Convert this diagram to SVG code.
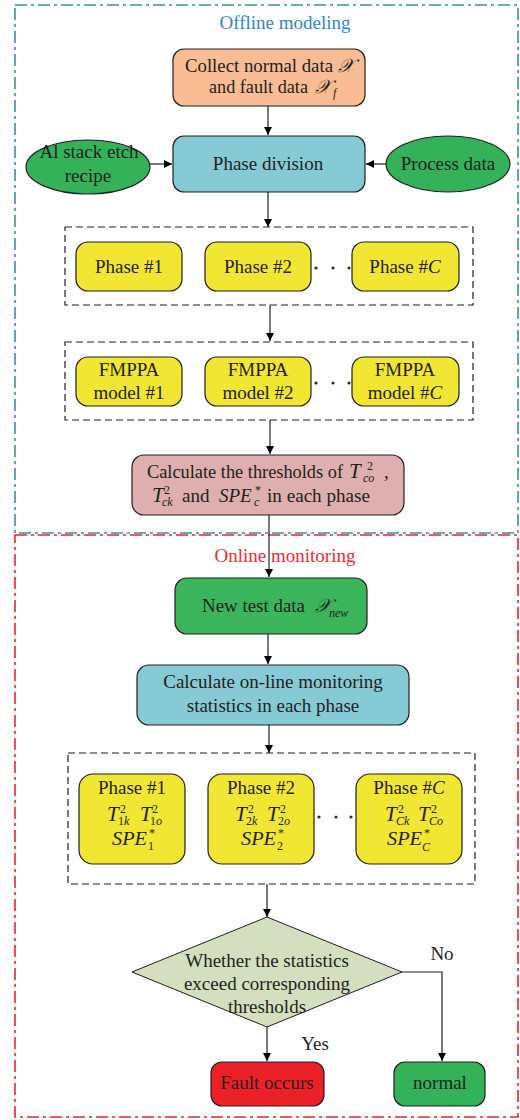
<svg xmlns="http://www.w3.org/2000/svg" width="520" height="1120" viewBox="0 0 520 1120">
<defs>
<style>
text{font-family:"Liberation Serif","Times New Roman",serif;fill:#231f20;font-size:19px}
.c{text-anchor:middle}
.i{font-style:italic}
.T{font-style:italic;font-size:21px}
.s{font-size:12px}
.node{stroke:#231f20;stroke-width:1.2}
.dash{fill:none;stroke:#231f20;stroke-width:1.2;stroke-dasharray:7 4}
.ln{fill:none;stroke:#231f20;stroke-width:1.2}
.dot{fill:#2b2b50}
</style>
<marker id="ah" viewBox="0 0 10 10" refX="10" refY="5" markerWidth="8" markerHeight="8" markerUnits="userSpaceOnUse" orient="auto"><path d="M0,0 L10,5 L0,10 z" fill="#000"/></marker>
</defs>
<rect width="520" height="1120" fill="#fff"/>

<g id="frames">
<rect x="15" y="5" width="503" height="528" fill="none" stroke="#3a8fa6" stroke-width="1.6" stroke-dasharray="12 4 3 4"/>
<rect x="15" y="535" width="503" height="582" fill="none" stroke="#e8262c" stroke-width="1.6" stroke-dasharray="12 4 3 4"/>
<text x="285" y="29" class="c" style="fill:#2f86c8">Offline modeling</text>
<text x="285" y="562" class="c" style="fill:#ee2a33">Online monitoring</text>
</g>

<g id="groups">
<rect x="65" y="227" width="408" height="78" class="dash"/>
<rect x="65" y="342" width="408" height="78" class="dash"/>
<rect x="68" y="753" width="407" height="131" class="dash"/>
</g>

<g id="connectors">
<line x1="268" y1="106" x2="268" y2="135" class="ln" marker-end="url(#ah)"/>
<line x1="150" y1="164" x2="172" y2="164" class="ln" marker-end="url(#ah)"/>
<line x1="387" y1="164" x2="366" y2="164" class="ln" marker-end="url(#ah)"/>
<line x1="268" y1="192" x2="268" y2="227" class="ln" marker-end="url(#ah)"/>
<line x1="270" y1="305" x2="270" y2="341" class="ln" marker-end="url(#ah)"/>
<line x1="270" y1="420" x2="270" y2="454" class="ln" marker-end="url(#ah)"/>
<line x1="269" y1="515" x2="269" y2="577" class="ln" marker-end="url(#ah)"/>
<line x1="268" y1="634" x2="268" y2="664" class="ln" marker-end="url(#ah)"/>
<line x1="269" y1="725" x2="269" y2="753" class="ln" marker-end="url(#ah)"/>
<line x1="267" y1="884" x2="267" y2="917" class="ln" marker-end="url(#ah)"/>
<line x1="267" y1="1027" x2="267" y2="1061" class="ln" marker-end="url(#ah)"/>
<polyline points="402,972 442,972 442,1061" class="ln" marker-end="url(#ah)"/>
<text x="442" y="960" class="c">No</text>
<text x="315" y="1050" class="c">Yes</text>
</g>

<g id="collect">
<rect x="173" y="49" width="192" height="57" rx="11" fill="#f9bc93" class="node"/>
<text x="185" y="72" textLength="148" lengthAdjust="spacingAndGlyphs">Collect normal data</text>
<text x="338" y="72" class="i">𝒳</text>
<text x="209" y="93" textLength="99" lengthAdjust="spacingAndGlyphs">and fault data</text>
<text x="315" y="93" class="i">𝒳</text>
<text x="333" y="97" class="i s">f</text>
</g>

<g id="phase-division">
<rect x="173" y="136" width="192" height="56" rx="11" fill="#86cad6" class="node"/>
<text x="268" y="170" class="c">Phase division</text>
</g>

<g id="recipe">
<ellipse cx="88" cy="167" rx="62" ry="27" fill="#33b25a" class="node"/>
<text x="89" y="158" class="c">Al stack etch</text>
<text x="88" y="182" class="c">recipe</text>
</g>

<g id="process-data">
<ellipse cx="448" cy="164" rx="62" ry="28" fill="#33b25a" class="node"/>
<text x="448" y="170" class="c">Process data</text>
</g>

<g id="phase1">
<rect x="76" y="242" width="106" height="49" rx="12" fill="#f1e631" class="node"/>
<text x="129" y="273" class="c">Phase #1</text>
</g>
<g id="phase2">
<rect x="205" y="242" width="106" height="49" rx="12" fill="#f1e631" class="node"/>
<text x="258" y="273" class="c">Phase #2</text>
</g>
<g id="phaseC">
<rect x="352" y="242" width="107" height="49" rx="12" fill="#f1e631" class="node"/>
<text x="405" y="273" class="c">Phase #<tspan class="i">C</tspan></text>
</g>
<g id="dots1"><circle cx="316" cy="268" r="1.6" class="dot"/><circle cx="333" cy="268" r="1.6" class="dot"/><circle cx="349" cy="268" r="1.6" class="dot"/></g>

<g id="model1">
<rect x="76" y="357" width="106" height="49" rx="12" fill="#f1e631" class="node"/>
<text x="129" y="376" class="c">FMPPA</text>
<text x="129" y="399" class="c">model #1</text>
</g>
<g id="model2">
<rect x="205" y="357" width="106" height="49" rx="12" fill="#f1e631" class="node"/>
<text x="258" y="376" class="c">FMPPA</text>
<text x="258" y="399" class="c">model #2</text>
</g>
<g id="modelC">
<rect x="352" y="357" width="107" height="49" rx="12" fill="#f1e631" class="node"/>
<text x="405" y="376" class="c">FMPPA</text>
<text x="405" y="399" class="c">model #<tspan class="i">C</tspan></text>
</g>
<g id="dots2"><circle cx="316" cy="383" r="1.6" class="dot"/><circle cx="333" cy="383" r="1.6" class="dot"/><circle cx="349" cy="383" r="1.6" class="dot"/></g>

<g id="thresholds">
<rect x="132" y="455" width="272" height="60" rx="12" fill="#dfaeae" class="node"/>
<text x="147" y="478" textLength="196" lengthAdjust="spacingAndGlyphs">Calculate the thresholds of</text>
<text x="349" y="478" class="T">T</text>
<text x="367" y="470" class="s">2</text>
<text x="363" y="482" class="i s">co</text>
<text x="384" y="478">,</text>
<text x="152" y="502" class="T">T</text>
<text x="164" y="494" class="s">2</text>
<text x="162" y="506" class="i s">ck</text>
<text x="182" y="502">and</text>
<text x="219" y="502" class="i">SPE</text>
<text x="255" y="494" class="s">*</text>
<text x="254" y="506" class="i s">c</text>
<text x="267" y="502" textLength="103" lengthAdjust="spacingAndGlyphs">in each phase</text>
</g>

<g id="new-data">
<rect x="175" y="578" width="192" height="56" rx="12" fill="#3bb55c" class="node"/>
<text x="202" y="612" textLength="103" lengthAdjust="spacingAndGlyphs">New test data</text>
<text x="315" y="612" class="i">𝒳</text>
<text x="329" y="617" class="i s">new</text>
</g>

<g id="online-stats">
<rect x="137" y="665" width="272" height="60" rx="12" fill="#86cad6" class="node"/>
<text x="273" y="688" class="c">Calculate on-line monitoring</text>
<text x="273" y="712" class="c">statistics in each phase</text>
</g>

<g id="stat1">
<rect x="79" y="774" width="106" height="90" rx="14" fill="#f1e631" class="node"/>
<text x="132" y="794" class="c">Phase #1</text>
<text x="107" y="821" class="T">T</text><text x="120" y="813" class="s">2</text><text x="118" y="825" class="s">1<tspan class="i">k</tspan></text>
<text x="140" y="821" class="T">T</text><text x="152" y="813" class="s">2</text><text x="150" y="825" class="s">1<tspan class="i">o</tspan></text>
<text x="112" y="845" class="i" textLength="35" lengthAdjust="spacingAndGlyphs">SPE</text><text x="149" y="837" class="s">*</text><text x="148" y="850" class="s">1</text>
</g>
<g id="stat2">
<rect x="208" y="774" width="106" height="90" rx="14" fill="#f1e631" class="node"/>
<text x="261" y="794" class="c">Phase #2</text>
<text x="235" y="821" class="T">T</text><text x="248" y="813" class="s">2</text><text x="246" y="825" class="s">2<tspan class="i">k</tspan></text>
<text x="267" y="821" class="T">T</text><text x="280" y="813" class="s">2</text><text x="278" y="825" class="s">2<tspan class="i">o</tspan></text>
<text x="241" y="845" class="i" textLength="35" lengthAdjust="spacingAndGlyphs">SPE</text><text x="278" y="837" class="s">*</text><text x="277" y="850" class="s">2</text>
</g>
<g id="statC">
<rect x="356" y="774" width="106" height="90" rx="14" fill="#f1e631" class="node"/>
<text x="409" y="794" class="c">Phase #<tspan class="i">C</tspan></text>
<text x="385" y="821" class="T">T</text><text x="398" y="813" class="s">2</text><text x="396" y="825" class="i s">Ck</text>
<text x="418" y="821" class="T">T</text><text x="431" y="813" class="s">2</text><text x="429" y="825" class="i s">Co</text>
<text x="387" y="845" class="i" textLength="35" lengthAdjust="spacingAndGlyphs">SPE</text><text x="424" y="837" class="s">*</text><text x="422" y="851" class="i s">C</text>
</g>
<g id="dots3"><circle cx="319" cy="817" r="1.6" class="dot"/><circle cx="336" cy="817" r="1.6" class="dot"/><circle cx="351" cy="817" r="1.6" class="dot"/></g>

<g id="decision">
<polygon points="267,917 402,972 267,1027 132,972" fill="#d3dfbe" stroke="#231f20" stroke-width="1"/>
<text x="267" y="967" class="c">Whether the statistics</text>
<text x="267" y="990" class="c">exceed corresponding</text>
<text x="267" y="1013" class="c">thresholds</text>
</g>

<g id="fault">
<rect x="211" y="1062" width="113" height="44" rx="11" fill="#ec2128" class="node"/>
<text x="267" y="1089" class="c">Fault occurs</text>
</g>
<g id="normal">
<rect x="394" y="1062" width="91" height="44" rx="11" fill="#33b25a" class="node"/>
<text x="440" y="1089" class="c">normal</text>
</g>
</svg>
